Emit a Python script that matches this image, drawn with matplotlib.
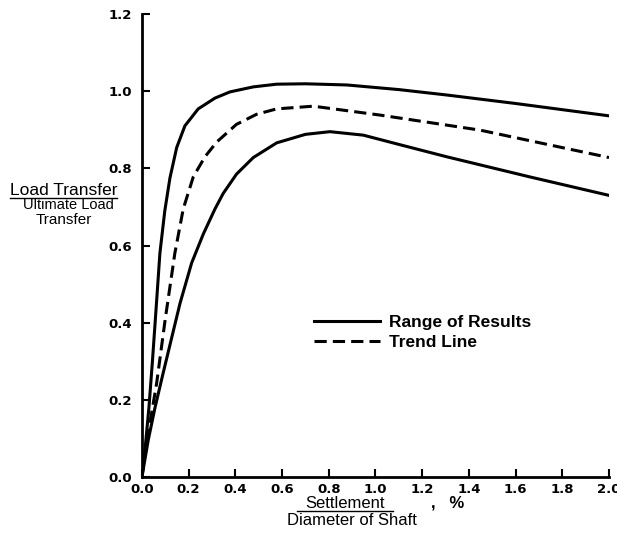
import matplotlib.pyplot as plt
from matplotlib.lines import Line2D

# valores
upper_x = [0, 0.013, 0.03, 0.045, 0.06, 0.077, 0.098, 0.12, 0.149, 0.184, 0.241, 0.313, 0.377, 0.477, 0.577, 0.7, 0.877, 1.1, 1.305, 1.6, 2.0]
upper_y = [0, 0.07, 0.18, 0.30, 0.43, 0.58, 0.69, 0.775, 0.854, 0.91, 0.954, 0.982, 0.998, 1.011, 1.018, 1.019, 1.016, 1.004, 0.99, 0.968, 0.936]

trend_x = [0, 0.013, 0.034, 0.063, 0.1, 0.141, 0.177, 0.22, 0.27, 0.32, 0.405, 0.491, 0.577, 0.734, 1.019, 1.448, 2.0]
trend_y = [0, 0.06, 0.139, 0.243, 0.41, 0.58, 0.695, 0.778, 0.83, 0.868, 0.914, 0.94, 0.954, 0.961, 0.938, 0.899, 0.828]

lower_x = [0, 0.027, 0.056, 0.091, 0.127, 0.163, 0.213, 0.263, 0.313, 0.348, 0.405, 0.477, 0.577, 0.7, 0.805, 0.948, 1.1, 1.305, 1.66, 2.0]
lower_y = [0, 0.096, 0.18, 0.27, 0.36, 0.45, 0.555, 0.63, 0.695, 0.735, 0.785, 0.828, 0.866, 0.888, 0.895, 0.886, 0.862, 0.83, 0.778, 0.73]

x_ticks = [0.0, 0.2, 0.4, 0.6, 0.8, 1.0, 1.2, 1.4, 1.6, 1.8, 2.0]
y_ticks = [0.0, 0.2, 0.4, 0.6, 0.8, 1.0, 1.2]

plt.rcParams['font.family'] = ['Liberation Sans', 'DejaVu Sans']

fig = plt.figure(figsize=(6.17, 5.35), dpi=100)
ax = fig.add_axes([0.230, 0.108, 0.757, 0.866])

lw = 2.2
ax.plot(upper_x, upper_y, color='black', lw=lw, solid_capstyle='round', solid_joinstyle='round')
ax.plot(lower_x, lower_y, color='black', lw=lw, solid_capstyle='round', solid_joinstyle='round')
ax.plot(trend_x, trend_y, color='black', lw=lw, dashes=(4, 2))

ax.set_xlim(0, 2.0)
ax.set_ylim(0, 1.2)
ax.set_xticks(x_ticks)
ax.set_yticks(y_ticks)
tick_font = dict(family='DejaVu Sans', fontweight='bold', fontsize=9.5)
ax.set_xticklabels([f'{v:.1f}' for v in x_ticks], **tick_font)
ax.set_yticklabels([f'{v:.1f}' for v in y_ticks], **tick_font)
ax.tick_params(direction='in', length=6, width=1.5)
ax.tick_params(axis='x', pad=4)
ax.tick_params(axis='y', pad=7)
for s in ['top', 'right']:
    ax.spines[s].set_visible(False)
for s in ['left', 'bottom']:
    ax.spines[s].set_linewidth(2)

handles = [Line2D([], [], color='black', lw=lw),
           Line2D([], [], color='black', lw=lw, dashes=(4, 2))]
ax.legend(handles, ['Range of Results', 'Trend Line'], frameon=False,
          loc='upper left', bbox_to_anchor=(0.335, 0.385), handlelength=3.8,
          handletextpad=0.5, labelspacing=0.3,
          prop={'weight': 'bold', 'size': 12.5})

# etiqueta del eje y (fraccion)
fig.text(10 / 617, 1 - 195 / 535, 'Load Transfer', fontsize=12.5, ha='left', va='baseline')
fig.add_artist(Line2D([10 / 617, 117 / 617], [1 - 198 / 535, 1 - 198 / 535], color='black', lw=1))
fig.text(68 / 617, 1 - 209 / 535, 'Ultimate Load', fontsize=10.5, ha='center', va='baseline')
fig.text(64 / 617, 1 - 224 / 535, 'Transfer', fontsize=11, ha='center', va='baseline')

# etiqueta del eje x (fraccion)
fig.text(345 / 617, 1 - 508 / 535, 'Settlement', fontsize=12, ha='center', va='baseline')
fig.add_artist(Line2D([297 / 617, 393 / 617], [1 - 511 / 535, 1 - 511 / 535], color='black', lw=1))
fig.text(431 / 617, 1 - 508 / 535, ',   %', fontsize=12, fontweight='bold', ha='left', va='baseline')
fig.text(352 / 617, 1 - 525 / 535, 'Diameter of Shaft', fontsize=12, ha='center', va='baseline')

fig.savefig('out.png', dpi=100)
